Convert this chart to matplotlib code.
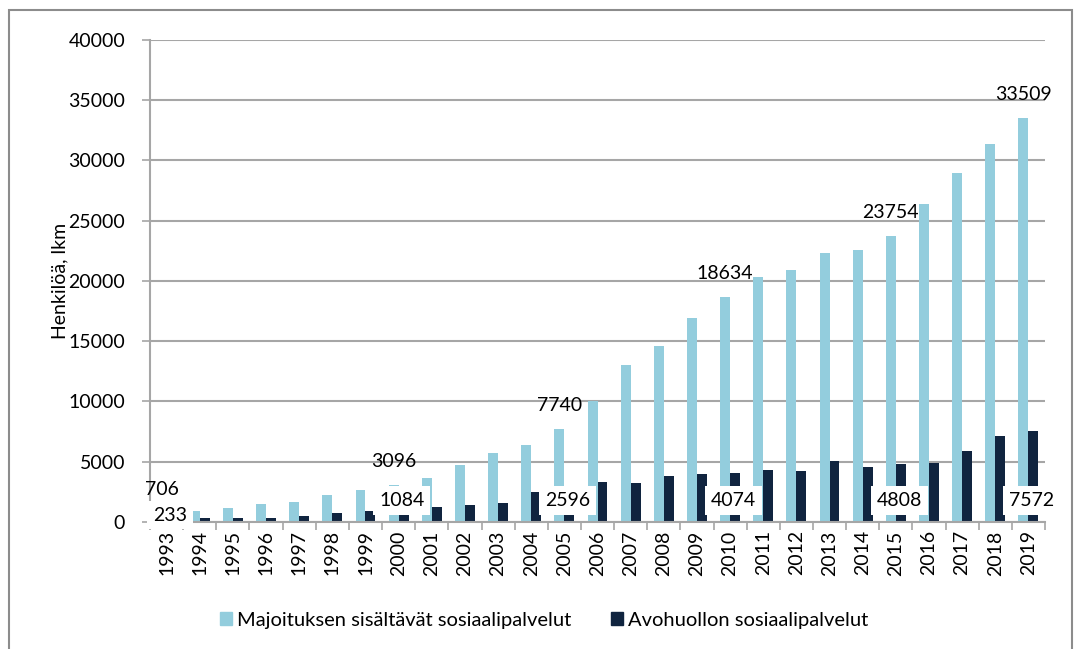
import matplotlib
matplotlib.use('Agg')
import matplotlib.pyplot as plt
import matplotlib.patches as mpatches
import numpy as np

plt.rcParams['font.family'] = ['Lato', 'DejaVu Sans']

# Data
years = [str(y) for y in range(1993, 2020)]
majoitus = [706, 940, 1190, 1470, 1690, 2210, 2630, 3096, 3630, 4730,
             5730, 6390, 7740, 10040, 13030, 14600, 16930, 18634, 20330, 20910,
             22320, 22570, 23754, 26390, 28960, 31370, 33509]
avohuolto = [233, 330, 350, 360, 470, 720, 890, 1084, 1270, 1410,
             1580, 2490, 2596, 3350, 3240, 3820, 3980, 4074, 4320, 4260,
             5060, 4590, 4808, 4920, 5890, 7160, 7572]
label_years = ['1993', '2000', '2005', '2010', '2015', '2019']

series_names = ['Majoituksen sisältävät sosiaalipalvelut', 'Avohuollon sosiaalipalvelut']
colors = ['#93CDDD', '#10243F']
grid_color = '#A6A6A6'
fs = 14

fig = plt.figure(figsize=(10.74, 6.49), dpi=100, facecolor='white')
ax = fig.add_axes([0.1397, 0.1957, 0.8333, 0.7427])

x = np.arange(len(years))
w = 0.3
ax.bar(x - w / 2, majoitus, width=w, color=colors[0], zorder=2, label=series_names[0])
ax.bar(x + w / 2, avohuolto, width=w, color=colors[1], zorder=2, label=series_names[1])

# data labels: first series above bars, second series near the base in white boxes
box = dict(boxstyle='square,pad=0.3', facecolor='white', edgecolor='none')
for yr in label_years:
    i = years.index(yr)
    ax.text(i - 0.15, majoitus[i] + 1950, str(majoitus[i]), ha='center', va='center',
            fontsize=fs, color='black', zorder=5)
    dy = 1800 if avohuolto[i] > 1000 else 580
    ax.text(i + 0.1, dy, str(avohuolto[i]), ha='center', va='center',
            fontsize=fs, color='black', bbox=box, zorder=5)

ax.set_xlim(-0.5, len(years) - 0.5)
ax.set_ylim(0, 40000)
ax.set_yticks(range(0, 40001, 5000))
ax.yaxis.grid(True, color=grid_color, linewidth=1.5, zorder=0)
ax.set_axisbelow(True)

ax.set_xticks(x)
ax.set_xticklabels(years, rotation=90, fontsize=fs)
ax.set_xticks(np.arange(-0.5, len(years), 1), minor=True)
ax.tick_params(axis='x', which='major', length=0, pad=6)
ax.tick_params(axis='x', which='minor', length=6, color=grid_color, width=1.2)
ax.tick_params(axis='y', length=6, color=grid_color, width=1.2, pad=12, labelsize=fs)

for s in ['top', 'right']:
    ax.spines[s].set_visible(False)
for s in ['left', 'bottom']:
    ax.spines[s].set_color(grid_color)
    ax.spines[s].set_linewidth(1.5)
    ax.spines[s].set_zorder(3)

ax.set_ylabel('Henkilöä, lkm', fontsize=fs, labelpad=0)

handles = [mpatches.Patch(color=colors[0], label=series_names[0]),
           mpatches.Patch(color=colors[1], label=series_names[1])]
fig.legend(handles=handles, loc='center', bbox_to_anchor=(0.5065, 0.044), ncol=2,
           frameon=False, fontsize=14.5, handlelength=0.6, handleheight=0.6,
           handletextpad=0.25, columnspacing=1.95)

# outer chart frame
frame = mpatches.Rectangle((9 / 1074, -0.05), (1072 - 9) / 1074, 1.05 - 10 / 649,
                           transform=fig.transFigure, fill=False,
                           edgecolor='#8C8C8C', linewidth=1.5, clip_on=False)
fig.add_artist(frame)

fig.savefig('out.png', dpi=100, facecolor='white')
